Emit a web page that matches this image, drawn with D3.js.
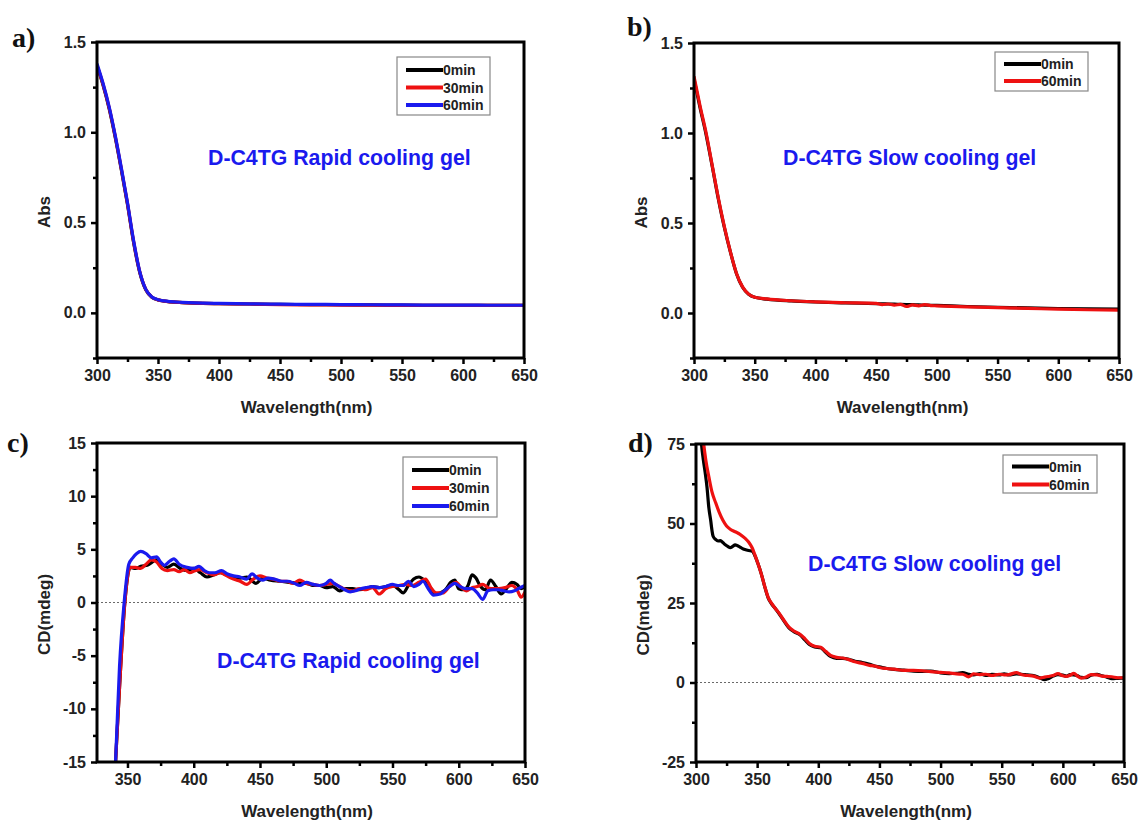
<!DOCTYPE html>
<html>
<head>
<meta charset="utf-8">
<script src="https://cdn.jsdelivr.net/npm/d3@7"></script>
<style>
  body { margin: 0; background: #fff; }
  text { font-family: "Liberation Sans", Arial, sans-serif; font-weight: bold; }
  .tick text { fill: #222; font-size: 16px; }
  .tick line { stroke: #000; stroke-width: 2.5; }
</style>
</head>
<body>
<svg id="fig" width="1139" height="823"></svg>
<script>
//----------------------------------------------------------------
// données
//----------------------------------------------------------------
// a) absorbance, gel refroidi rapidement
var absRapidWl = [300,305,310,315,320,325,330,335,340,345,350,355,360,370,380,400,425,450,475,500,525,550,575,600,625,650];
var absRapid0  = [1.37,1.26,1.13,0.97,0.79,0.60,0.39,0.225,0.128,0.087,0.072,0.065,0.061,0.057,0.054,0.051,0.049,0.047,0.046,0.045,0.044,0.043,0.042,0.042,0.041,0.041];
var absRapid30 = [1.37,1.265,1.135,0.975,0.795,0.605,0.395,0.228,0.129,0.087,0.072,0.065,0.061,0.057,0.054,0.051,0.049,0.046,0.044,0.043,0.042,0.041,0.041,0.041,0.041,0.041];
var absRapid60 = [1.38,1.27,1.14,0.98,0.80,0.61,0.40,0.23,0.13,0.088,0.073,0.066,0.062,0.058,0.055,0.052,0.050,0.048,0.047,0.046,0.045,0.044,0.043,0.043,0.042,0.042];

// b) absorbance, gel refroidi lentement
var absSlowWl = [300,305,310,315,320,325,330,335,340,345,350,360,380,400,425,450,455,460,465,470,475,480,485,490,495,500,525,550,575,600,625,650];
var absSlow0  = [1.30,1.14,0.99,0.815,0.635,0.475,0.338,0.218,0.143,0.104,0.087,0.077,0.067,0.061,0.056,0.052,0.051,0.050,0.049,0.048,0.047,0.046,0.045,0.044,0.043,0.042,0.036,0.032,0.028,0.025,0.023,0.022];
var absSlow60 = [1.315,1.15,1.00,0.82,0.64,0.48,0.34,0.22,0.145,0.105,0.088,0.078,0.068,0.062,0.057,0.053,0.047,0.050,0.044,0.048,0.036,0.045,0.040,0.046,0.041,0.040,0.034,0.030,0.026,0.021,0.018,0.016];

// c) CD, gel refroidi rapidement  [longueur d'onde, mdeg]
var cdRapid0 = [[338,-22],[341,-15],[344,-8],[348,0],[352,3.3],[356,3.2],[360,3.4],[365,3.5],[372,4.0],[376,3.6],[380,3.3],[385,3.6],[390,3.2],[395,3.0],[400,3.2],[405,2.8],[410,2.4],[415,2.6],[420,2.8],[425,2.6],[430,2.4],[435,2.3],[440,2.4],[447,1.8],[452,2.3],[458,2.1],[465,2.0],[472,1.9],[480,1.8],[485,1.8],[490,1.6],[495,1.6],[500,1.4],[505,1.5],[510,1.1],[515,1.3],[520,1.3],[525,1.2],[530,1.3],[535,1.5],[540,1.4],[545,1.5],[550,1.6],[555,1.2],[558,0.9],[562,1.6],[566,2.2],[570,2.4],[574,2.1],[578,1.5],[582,0.8],[586,0.9],[590,1.2],[594,1.9],[597,2.1],[600,1.3],[604,1.2],[607,1.6],[610,2.6],[613,2.3],[616,1.6],[620,1.2],[624,2.1],[628,1.5],[632,0.8],[636,1.3],[640,1.9],[644,1.7],[647,1.3],[650,1.5]];
var cdRapid30 = [[338,-22],[341,-15],[344,-8],[348,0],[352,3.3],[356,3.3],[360,3.2],[364,3.6],[368,4.0],[372,3.8],[376,3.2],[380,3.0],[385,3.1],[389,2.9],[393,3.1],[397,2.8],[401,3.0],[405,3.1],[410,2.8],[415,2.6],[420,2.8],[425,2.5],[430,2.2],[435,2.0],[440,1.7],[445,2.2],[450,2.5],[455,2.3],[460,2.2],[465,2.0],[470,2.0],[475,1.8],[480,2.1],[485,1.8],[490,1.7],[495,1.6],[500,1.7],[505,1.8],[510,1.5],[515,1.2],[520,1.1],[525,1.3],[530,1.2],[535,1.4],[540,0.8],[545,1.3],[550,1.5],[555,1.6],[560,1.7],[565,1.6],[570,1.9],[575,2.2],[579,1.4],[583,0.9],[588,0.9],[593,1.5],[598,1.9],[602,1.4],[606,1.1],[610,1.4],[614,1.5],[618,1.7],[622,1.4],[626,1.3],[630,1.3],[635,1.4],[640,1.6],[644,1.2],[647,0.5],[650,1.0]];
var cdRapid60 = [[338,-22],[341,-15],[344,-6],[347.5,0],[351,3.6],[354,4.2],[357,4.6],[360,4.8],[364,4.6],[368,4.2],[372,4.3],[375,3.8],[378,3.5],[382,3.9],[385,4.1],[389,3.6],[395,3.3],[400,3.2],[404,3.4],[408,3.0],[412,2.8],[416,2.8],[421,3.0],[425,2.7],[430,2.5],[435,2.4],[440,2.2],[444,2.7],[448,2.3],[452,2.1],[456,2.3],[461,2.2],[466,2.0],[471,2.0],[476,1.8],[480,1.6],[485,1.9],[490,1.7],[495,1.6],[500,1.8],[503,2.1],[506,1.8],[510,1.5],[514,1.2],[518,1.0],[522,1.1],[526,1.3],[530,1.4],[535,1.5],[540,1.4],[545,1.5],[550,1.7],[554,1.6],[558,1.6],[562,2.0],[566,1.5],[570,1.7],[573,2.0],[577,1.3],[581,0.7],[586,0.8],[590,1.2],[593,1.5],[597,1.8],[601,1.5],[605,1.3],[610,1.3],[614,0.9],[618,0.3],[622,1.1],[626,1.2],[630,1.2],[634,1.1],[638,1.0],[642,1.1],[645,1.3],[650,1.6]];

// d) CD, gel refroidi lentement
var cdSlow0 = [[303.5,80],[304.5,75],[306,70],[307.5,66],[309,61.4],[310.5,55],[312,51],[313,48],[314,46],[316,45],[318,44.5],[320,44.6],[322,44],[324,43.3],[326,42.8],[328,42.4],[330,42.8],[332,43.3],[334,43.0],[336,42.6],[338,42.1],[340,41.8],[343,41.5],[346,41.3],[348,40.0],[351,37],[353.5,34],[356,30.4],[359,26.6],[362,24.6],[365,23.2],[368,21.6],[372,19.3],[376,17.2],[380,16.0],[385,15.0],[389,13.4],[393,11.9],[397,11.2],[402,10.9],[406,9.5],[410,8.2],[415,7.6],[420,7.6],[425,7.3],[430,6.7],[436,6.3],[442,5.7],[446,5.2],[450,4.9],[456,4.4],[462,4.1],[470,3.9],[478,3.6],[485,3.5],[492,3.6],[500,3.0],[507,2.8],[513,2.9],[518,3.1],[523,2.6],[527,2.4],[532,2.8],[537,2.2],[542,2.6],[548,2.4],[552,2.7],[556,2.4],[562,2.7],[566,2.6],[571,2.4],[576,2.2],[581,1.5],[585,0.9],[588,1.2],[592,2.0],[596,2.5],[600,2.3],[603,2.0],[606,2.5],[609,2.4],[612,2.1],[615,1.6],[619,1.5],[623,2.3],[628,2.6],[632,2.1],[636,1.7],[640,1.2],[645,1.3],[650,1.4]];
var cdSlow60 = [[305,80],[306.3,75],[308,70],[310.6,64.5],[313,60],[316,56.6],[319,53.5],[322,51],[325,49.2],[328,48.2],[332,47.4],[336,46.6],[340,45.4],[343,44.2],[346,42.3],[348,40.3],[351,37],[353.5,34],[356,30.5],[359,26.8],[362,24.8],[365,23.2],[368,21.8],[372,19.5],[376,17.4],[380,16.2],[385,15.2],[389,13.8],[393,12.2],[397,11.4],[402,11.1],[406,9.8],[410,8.5],[415,7.9],[420,7.7],[425,7.2],[430,6.5],[436,6.0],[442,5.4],[446,5.2],[450,4.7],[456,4.4],[462,4.2],[470,3.8],[478,3.8],[485,3.7],[492,3.4],[500,3.2],[507,3.0],[513,2.7],[518,2.6],[523,1.8],[527,2.7],[532,2.5],[537,2.6],[542,2.2],[548,2.6],[552,2.4],[556,2.5],[562,3.1],[566,2.5],[571,2.2],[576,2.0],[581,1.4],[585,1.7],[588,1.9],[592,2.2],[596,2.8],[600,2.1],[603,1.9],[606,2.3],[609,2.9],[612,2.0],[615,1.4],[619,1.7],[623,2.5],[628,2.4],[632,2.0],[636,1.9],[640,1.8],[645,1.5],[650,1.5]];

// graduations
var xTicks = [300,350,400,450,500,550,600,650];
var xTicksC = [350,400,450,500,550,600,650];
var absTicks = [0,0.5,1.0,1.5];
var cdRapidTicks = [-15,-10,-5,0,5,10,15];
var cdSlowTicks = [-25,0,25,50,75];

var legende3 = ["0min","30min","60min"];
var legende2 = ["0min","60min"];

// couleurs
var noir = "#000000", rouge = "#ee1111", bleu = "#1a1aee";

function zipper(wl, v){ return wl.map(function(w,i){ return [w, v[i]]; }); }

var svg = d3.select("#fig");

//----------------------------------------------------------------
// un panneau
//----------------------------------------------------------------
function panneau(p){
    var x = d3.scaleLinear().domain(p.xDom).range([p.g, p.d]);
    var y = d3.scaleLinear().domain(p.yDom).range([p.b, p.h]);
    var g = svg.append("g");
    var id = "clip" + p.lettre;

    svg.append("clipPath").attr("id", id).append("rect")
        .attr("x", p.g).attr("y", p.h).attr("width", p.d - p.g).attr("height", p.b - p.h);

    // ligne zéro pointillée
    if (p.zero) {
        g.append("line")
            .attr("x1", p.g).attr("x2", p.d).attr("y1", y(0)).attr("y2", y(0))
            .attr("stroke", "#444").attr("stroke-width", 0.8).attr("stroke-dasharray", "2,2");
    }

    var ligne = d3.line().x(function(d){ return x(d[0]); }).y(function(d){ return y(d[1]); })
        .curve(d3.curveMonotoneX);
    p.series.forEach(function(s){
        g.append("path").datum(s.data)
            .attr("clip-path", "url(#" + id + ")")
            .attr("fill", "none").attr("stroke", s.c).attr("stroke-width", 3.2)
            .attr("stroke-linejoin", "round")
            .attr("d", ligne);
    });

    // axes
    var fmt = function(d){ return p.fmt(d).replace("\u2212", "-"); };
    g.append("g").attr("transform", "translate(" + p.g + ",0)")
        .call(d3.axisLeft(y).tickValues(p.yTicks).tickSize(6).tickPadding(5).tickFormat(fmt))
        .call(function(a){ a.select(".domain").remove(); });
    g.append("g").attr("transform", "translate(" + p.g + ",0)")
        .call(d3.axisLeft(y).tickValues(p.yMin).tickSize(4).tickFormat(""))
        .call(function(a){ a.select(".domain").remove(); });
    g.append("g").attr("transform", "translate(0," + p.b + ")")
        .call(d3.axisBottom(x).tickValues(p.xTicks).tickSize(6).tickPadding(6))
        .call(function(a){ a.select(".domain").remove(); });
    g.append("g").attr("transform", "translate(0," + p.b + ")")
        .call(d3.axisBottom(x).tickValues(p.xTicks.slice(0,-1).map(function(v){ return v + 25; })).tickSize(4).tickFormat(""))
        .call(function(a){ a.select(".domain").remove(); });

    // cadre
    g.append("rect").attr("x", p.g).attr("y", p.h).attr("width", p.d - p.g).attr("height", p.b - p.h)
        .attr("fill", "none").attr("stroke", "#000").attr("stroke-width", 3);

    // titres d'axes
    g.append("text").attr("x", (p.g + p.d) / 2 - 4).attr("y", p.b + 55)
        .attr("text-anchor", "middle").attr("font-size", 17).attr("fill", "#222")
        .text("Wavelength(nm)");
    g.append("text").attr("transform", "translate(" + (p.g - 47) + "," + ((p.h + p.b) / 2 + 12) + ") rotate(-90)")
        .attr("text-anchor", "middle").attr("font-size", 17).attr("fill", "#222")
        .text(p.yTitre);

    // lettre du panneau
    g.append("text").attr("x", p.lx).attr("y", p.ly)
        .style("font-family", "'Liberation Serif', 'Times New Roman', serif")
        .attr("font-size", 28).attr("fill", "#111").text(p.lettre + ")");

    // annotation
    g.append("text").attr("x", p.tx).attr("y", p.ty)
        .attr("font-size", 21.3).attr("fill", bleu).text(p.texte);

    // légende
    var L = p.leg;
    g.append("rect").attr("x", L.x).attr("y", L.y).attr("width", L.w).attr("height", L.h)
        .attr("fill", "#fff").attr("stroke", "#888").attr("stroke-width", 1.2);
    p.series.forEach(function(s, i){
        var yy = L.y + L.p + i * L.pas;
        g.append("line").attr("x1", L.x + 9).attr("x2", L.x + 46).attr("y1", yy).attr("y2", yy)
            .attr("stroke", s.c).attr("stroke-width", 4);
        g.append("text").attr("x", L.x + 46).attr("y", yy + 5)
            .attr("font-size", 14).attr("fill", "#222").text(s.nom);
    });
}

panneau({
    lettre: "a", lx: 12, ly: 47,
    g: 97, d: 524, h: 42, b: 358,
    xDom: [300, 650], yDom: [-0.25, 1.5],
    xTicks: xTicks, yTicks: absTicks, yMin: [-0.25, 0.25, 0.75, 1.25],
    fmt: d3.format(".1f"), yTitre: "Abs", zero: false,
    texte: "D-C4TG Rapid cooling gel", tx: 208, ty: 165,
    leg: {x: 397, y: 57, w: 93, h: 58, p: 13, pas: 17.5},
    series: [
        {nom: legende3[0], c: noir, data: zipper(absRapidWl, absRapid0)},
        {nom: legende3[1], c: rouge, data: zipper(absRapidWl, absRapid30)},
        {nom: legende3[2], c: bleu, data: zipper(absRapidWl, absRapid60)}
    ]
});

panneau({
    lettre: "b", lx: 627, ly: 36,
    g: 694, d: 1119, h: 43, b: 358,
    xDom: [300, 650], yDom: [-0.25, 1.5],
    xTicks: xTicks, yTicks: absTicks, yMin: [-0.25, 0.25, 0.75, 1.25],
    fmt: d3.format(".1f"), yTitre: "Abs", zero: false,
    texte: "D-C4TG Slow cooling gel", tx: 783, ty: 165,
    leg: {x: 995, y: 52, w: 93, h: 39, p: 12, pas: 17},
    series: [
        {nom: legende2[0], c: noir, data: zipper(absSlowWl, absSlow0)},
        {nom: legende2[1], c: rouge, data: zipper(absSlowWl, absSlow60)}
    ]
});

panneau({
    lettre: "c", lx: 7, ly: 452,
    g: 97, d: 525, h: 443, b: 762,
    xDom: [327, 650], yDom: [-15, 15],
    xTicks: xTicksC, yTicks: cdRapidTicks, yMin: [-12.5, -7.5, -2.5, 2.5, 7.5, 12.5],
    fmt: d3.format("d"), yTitre: "CD(mdeg)", zero: true,
    texte: "D-C4TG Rapid cooling gel", tx: 217, ty: 668,
    leg: {x: 403, y: 457, w: 94, h: 60, p: 13, pas: 18},
    series: [
        {nom: legende3[0], c: noir, data: cdRapid0},
        {nom: legende3[1], c: rouge, data: cdRapid30},
        {nom: legende3[2], c: bleu, data: cdRapid60}
    ]
});

panneau({
    lettre: "d", lx: 628, ly: 452,
    g: 696, d: 1124, h: 444, b: 762,
    xDom: [300, 650], yDom: [-25, 75],
    xTicks: xTicks, yTicks: cdSlowTicks, yMin: [-12.5, 12.5, 37.5, 62.5],
    fmt: d3.format("d"), yTitre: "CD(mdeg)", zero: true,
    texte: "D-C4TG Slow cooling gel", tx: 808, ty: 571,
    leg: {x: 1003, y: 455, w: 94, h: 38, p: 11.5, pas: 18},
    series: [
        {nom: legende2[0], c: noir, data: cdSlow0},
        {nom: legende2[1], c: rouge, data: cdSlow60}
    ]
});
</script>
</body>
</html>
